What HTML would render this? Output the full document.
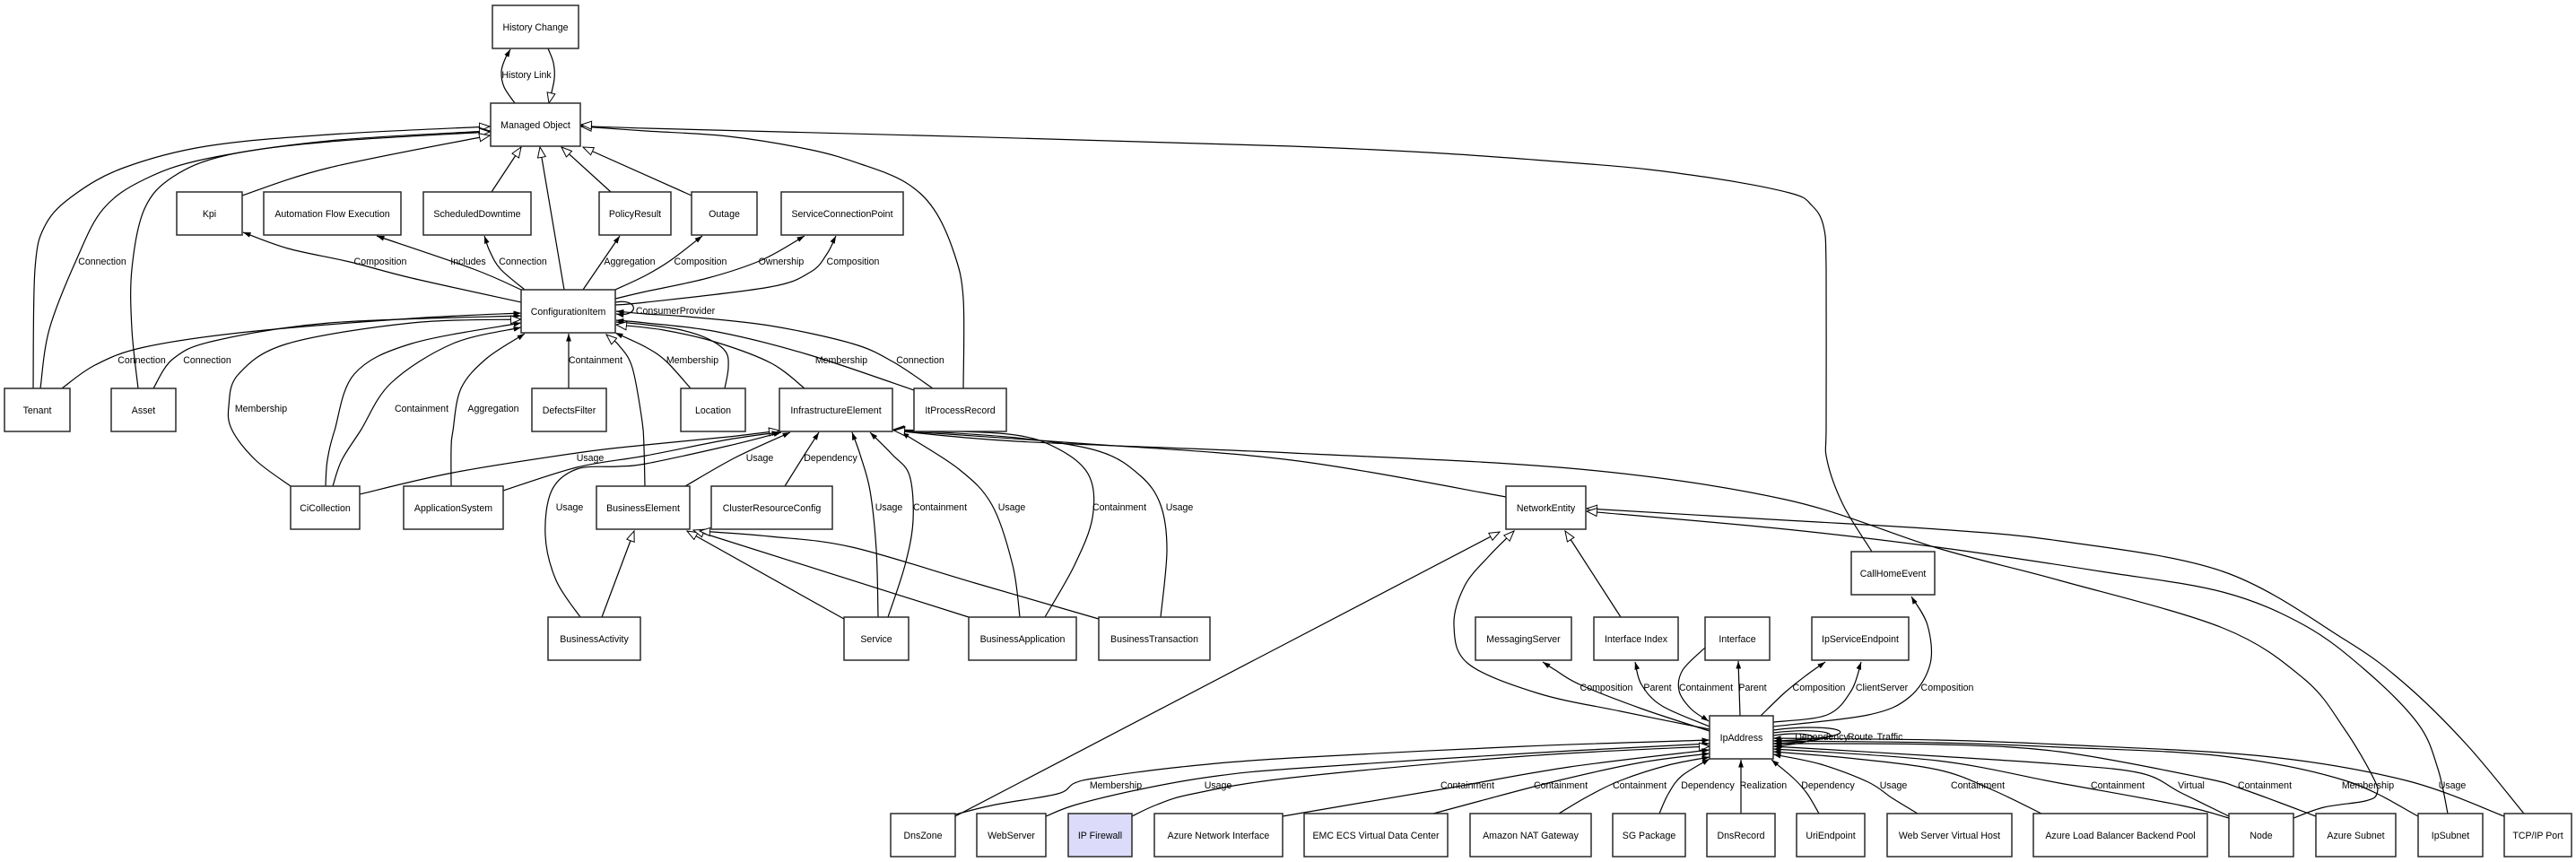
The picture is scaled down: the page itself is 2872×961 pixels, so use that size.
<!DOCTYPE html>
<html><head><meta charset="utf-8">
<style>
html,body{margin:0;padding:0;background:#fff;}
svg{display:block;}
text{font-family:"Liberation Sans",Arial,sans-serif;font-size:10.6px;fill:#000;}
.e polyline,.e path{fill:none;stroke:#000;stroke-width:1.2;stroke-linejoin:round;}
.f{marker-end:url(#af);}
.h{marker-end:url(#ah);}
.n rect{fill:#fff;stroke:#2a2a2a;stroke-width:1.5;}
</style></head>
<body>
<svg width="2872" height="961" viewBox="0 0 2872 961" xmlns="http://www.w3.org/2000/svg">
<defs>
<marker id="af" markerWidth="10" markerHeight="8" refX="8.5" refY="3.5" orient="auto" markerUnits="userSpaceOnUse"><path d="M0,0.6 L8.5,3.5 L0,6.4 z" fill="#000"/></marker>
<marker id="ah" markerWidth="14" markerHeight="12" refX="12" refY="5" orient="auto" markerUnits="userSpaceOnUse"><path d="M0.5,0.5 L12,5 L0.5,9.5 z" fill="#fff" stroke="#000" stroke-width="1"/></marker>
</defs>
<rect width="2872" height="961" fill="#fff"/>
<g class="e">
<!-- top -->
<polyline class="h" points="611,54 617,70 618,88 612,115"/>
<polyline class="f" points="574,115 562,97 559,80 563,66 569,55"/>
<polyline class="h" points="37,433 39,300 51,250 83,217 138,187 230,163 367,150 546,141"/>
<polyline class="h" points="45,433 55,367 85,290 115,233 161,200 230,177 367,157 546,146"/>
<polyline class="h" points="154,433 147,367 147,300 161,233 193,197 253,173 367,158 546,147"/>
<polyline class="h" points="270,218 367,187 546,151"/>
<polyline class="h" points="548,214 581,164"/>
<polyline class="h" points="629,323 602,164"/>
<polyline class="h" points="681,214 626,164"/>
<polyline class="h" points="771,218 650,164"/>
<polyline class="h" points="1074,433 1074,333 1064,283 1041,233 1009,203 960,183 904,167 812,152 720,146 648,141"/>
<polyline class="h" points="2087,615 2055,563 2037,513 2036,470 2036,300 2033,252 2020,229 1995,215 1899,197 1761,182 1440,163 720,143 648,139"/>
<!-- CI outgoing -->
<polyline class="f" points="581,337 459,310 390,292 321,277 271,259"/>
<polyline class="f" points="581,323 528,300 420,263"/>
<polyline class="f" points="585,323 558,300 546,280 540,263"/>
<polyline class="f" points="650,323 691,263"/>
<polyline class="f" points="686,323 720,307 748,290 783,263"/>
<polyline class="f" points="686,333 720,325 789,310 849,290 897,263"/>
<polyline class="f" points="686,340 720,337 858,320 904,303 922,283 932,263"/>
<path class="f" d="M686,337 C712,332 714,354 687,350"/>
<!-- into CI -->
<polyline class="f" points="69,433 106,407 161,387 276,370 459,355 581,349"/>
<polyline class="f" points="171,433 193,400 239,380 367,360 581,352"/>
<polyline class="h" points="324,542 285,513 259,480 255,453 266,417 321,383 459,360 581,356"/>
<polyline class="f" points="363,542 365,513 373,480 395,417 459,383 581,360"/>
<polyline class="f" points="371,542 381,513 402,480 436,427 505,383 581,365"/>
<polyline class="f" points="503,542 503,500 505,480 514,433 542,400 585,372"/>
<polyline class="f" points="634,433 634,372"/>
<polyline class="h" points="719,542 718,500 716,470 705,410 690,385 676,373"/>
<polyline class="f" points="770,433 743,403 720,387 686,371"/>
<polyline class="f" points="808,433 812,410 809,392 790,378 760,368 720,362 687,359"/>
<polyline class="h" points="897,433 860,405 800,382 740,368 687,362"/>
<polyline class="f" points="1019,435 900,395 800,370 720,360 687,357"/>
<polyline class="f" points="1040,433 995,403 950,383 858,363 766,353 720,350 687,347"/>
<!-- into IE -->
<polyline class="h" points="401,551 505,527 643,505 720,496 812,487 869,480"/>
<polyline class="f" points="561,547 643,521 720,508 812,490 869,482"/>
<polyline class="f" points="647,688 620,647 608,597 615,547 643,523 689,520 720,517 812,497 871,482"/>
<polyline class="f" points="764,542 820,510 881,482"/>
<polyline class="f" points="875,542 895,510 913,482"/>
<polyline class="f" points="979,688 977,613 970,547 959,507 950,482"/>
<polyline class="f" points="990,688 1009,630 1018,580 1014,530 995,507 970,482"/>
<polyline class="f" points="1137,688 1129,630 1106,563 1069,523 1005,482"/>
<polyline class="h" points="1165,688 1198,630 1218,577 1214,530 1179,500 1124,484 996,479"/>
<polyline class="h" points="1294,688 1301,613 1294,563 1271,530 1225,503 1133,488 997,479"/>
<polyline class="h" points="1679,554 1440,513 1200,494 997,480"/>
<polyline class="h" points="2557,912 2591,900 2637,893 2650,885 2646,867 2614,813 2569,757 2478,700 2296,647 2160,611 1991,557 1761,523 1440,505 1133,492 997,480"/>
<!-- into BE -->
<polyline class="h" points="671,688 707,592"/>
<polyline class="h" points="941,690 766,592"/>
<polyline class="h" points="1080,688 773,591"/>
<polyline class="h" points="1225,690 1087,650 950,610 858,598 780,592"/>
<!-- into NE -->
<polyline class="h" points="2814,907 2750,830 2682,763 2614,713 2478,637 2296,603 2160,590 1991,580 1769,567"/>
<polyline class="h" points="2729,907 2718,857 2696,807 2637,747 2569,697 2478,660 2342,637 2160,610 1991,590 1769,570"/>
<polyline class="h" points="1065,910 1672,593"/>
<polyline class="h" points="1906,813 1807,793 1715,773 1637,740 1621,697 1633,653 1660,620 1688,592"/>
<polyline class="h" points="1807,688 1745,592"/>
<!-- IpAddress upward -->
<polyline class="f" points="1906,815 1830,790 1761,763 1734,747 1720,738"/>
<polyline class="f" points="1906,810 1853,787 1830,763 1823,738"/>
<polyline class="f" points="1901,722 1876,747 1872,770 1885,790 1905,804"/>
<polyline class="f" points="1940,798 1938,737"/>
<polyline class="f" points="1963,798 1990,772 2015,752 2035,738"/>
<polyline class="f" points="1977,805 2037,797 2064,770 2075,738"/>
<polyline class="f" points="1977,810 2083,797 2129,777 2152,740 2149,697 2131,665"/>
<path class="f" d="M1977,814 C2050,804 2100,822 1978,826"/>
<path class="f" d="M1977,817 C2040,809 2080,824 1978,829"/>
<path class="f" d="M1977,820 C2020,813 2050,826 1978,832"/>
<!-- bottom into IpAddress -->
<polyline class="f" points="1065,908 1110,897 1179,885 1198,873 1225,867 1317,855 1440,845 1700,832 1906,825"/>
<polyline class="f" points="1166,910 1200,897 1271,880 1350,866 1440,857 1700,840 1906,829"/>
<polyline class="h" points="1262,910 1290,897 1330,885 1440,867 1700,843 1906,832"/>
<polyline class="f" points="1430,910 1500,898 1607,880 1750,855 1906,836"/>
<polyline class="f" points="1598,907 1650,893 1738,870 1830,850 1906,840"/>
<polyline class="f" points="1738,907 1770,888 1807,870 1860,853 1906,844"/>
<polyline class="f" points="1850,907 1860,885 1875,865 1906,846"/>
<polyline class="f" points="1941,907 1941,847"/>
<polyline class="f" points="2028,907 2015,885 2000,868 1975,847"/>
<polyline class="f" points="2138,907 2110,890 2083,872 2030,852 1977,841"/>
<polyline class="f" points="2276,907 2220,880 2160,858 2060,845 1977,838"/>
<polyline class="f" points="2485,912 2432,898 2296,873 2160,848 1977,835"/>
<polyline class="f" points="2485,910 2432,884 2387,862 2296,852 2160,843 1977,832"/>
<polyline class="f" points="2582,910 2501,880 2455,867 2296,838 2160,830 1977,829"/>
<polyline class="f" points="2696,910 2614,870 2478,843 2296,833 2160,828 1977,826"/>
<polyline class="f" points="2792,910 2682,870 2523,843 2296,830 2160,825 1977,823"/>
</g>

<g class="n">
<rect x="549" y="6" width="96" height="48"/><text x="597" y="34" text-anchor="middle">History Change</text>
<rect x="547" y="115" width="100" height="48"/><text x="597" y="143" text-anchor="middle">Managed Object</text>
<rect x="197" y="214" width="73" height="48"/><text x="233.5" y="242" text-anchor="middle">Kpi</text>
<rect x="294" y="214" width="153" height="48"/><text x="370.5" y="242" text-anchor="middle">Automation Flow Execution</text>
<rect x="472" y="214" width="120" height="48"/><text x="532" y="242" text-anchor="middle">ScheduledDowntime</text>
<rect x="668" y="214" width="80" height="48"/><text x="708" y="242" text-anchor="middle">PolicyResult</text>
<rect x="771" y="214" width="73" height="48"/><text x="807.5" y="242" text-anchor="middle">Outage</text>
<rect x="871" y="214" width="136" height="48"/><text x="939" y="242" text-anchor="middle">ServiceConnectionPoint</text>
<rect x="581" y="323" width="105" height="48"/><text x="633.5" y="351" text-anchor="middle">ConfigurationItem</text>
<rect x="5" y="433" width="73" height="48"/><text x="41.5" y="461" text-anchor="middle">Tenant</text>
<rect x="124" y="433" width="72" height="48"/><text x="160" y="461" text-anchor="middle">Asset</text>
<rect x="593" y="433" width="83" height="48"/><text x="634.5" y="461" text-anchor="middle">DefectsFilter</text>
<rect x="759" y="433" width="72" height="48"/><text x="795" y="461" text-anchor="middle">Location</text>
<rect x="869" y="433" width="126" height="48"/><text x="932" y="461" text-anchor="middle">InfrastructureElement</text>
<rect x="1019" y="433" width="103" height="48"/><text x="1070.5" y="461" text-anchor="middle">ItProcessRecord</text>
<rect x="324" y="542" width="77" height="48"/><text x="362.5" y="570" text-anchor="middle">CiCollection</text>
<rect x="450" y="542" width="111" height="48"/><text x="505.5" y="570" text-anchor="middle">ApplicationSystem</text>
<rect x="665" y="542" width="104" height="48"/><text x="717" y="570" text-anchor="middle">BusinessElement</text>
<rect x="793" y="542" width="135" height="48"/><text x="860.5" y="570" text-anchor="middle">ClusterResourceConfig</text>
<rect x="1679" y="542" width="89" height="48"/><text x="1723.5" y="570" text-anchor="middle">NetworkEntity</text>
<rect x="2064" y="615" width="93" height="48"/><text x="2110.5" y="643" text-anchor="middle">CallHomeEvent</text>
<rect x="611" y="688" width="103" height="48"/><text x="662.5" y="716" text-anchor="middle">BusinessActivity</text>
<rect x="941" y="688" width="72" height="48"/><text x="977" y="716" text-anchor="middle">Service</text>
<rect x="1080" y="688" width="120" height="48"/><text x="1140" y="716" text-anchor="middle">BusinessApplication</text>
<rect x="1225" y="688" width="124" height="48"/><text x="1287" y="716" text-anchor="middle">BusinessTransaction</text>
<rect x="1645" y="688" width="107" height="48"/><text x="1698.5" y="716" text-anchor="middle">MessagingServer</text>
<rect x="1777" y="688" width="94" height="48"/><text x="1824" y="716" text-anchor="middle">Interface Index</text>
<rect x="1901" y="688" width="72" height="48"/><text x="1937" y="716" text-anchor="middle">Interface</text>
<rect x="2020" y="688" width="108" height="48"/><text x="2074" y="716" text-anchor="middle">IpServiceEndpoint</text>
<rect x="1906" y="798" width="71" height="48"/><text x="1941.5" y="826" text-anchor="middle">IpAddress</text>
<rect x="993" y="907" width="72" height="48"/><text x="1029" y="935" text-anchor="middle">DnsZone</text>
<rect x="1089" y="907" width="77" height="48"/><text x="1127.5" y="935" text-anchor="middle">WebServer</text>
<rect x="1191" y="907" width="71" height="48" style="fill:#dcdcfa"/><text x="1226.5" y="935" text-anchor="middle">IP Firewall</text>
<rect x="1287" y="907" width="143" height="48"/><text x="1358.5" y="935" text-anchor="middle">Azure Network Interface</text>
<rect x="1454" y="907" width="160" height="48"/><text x="1534" y="935" text-anchor="middle">EMC ECS Virtual Data Center</text>
<rect x="1639" y="907" width="135" height="48"/><text x="1706.5" y="935" text-anchor="middle">Amazon NAT Gateway</text>
<rect x="1798" y="907" width="81" height="48"/><text x="1838.5" y="935" text-anchor="middle">SG Package</text>
<rect x="1903" y="907" width="76" height="48"/><text x="1941" y="935" text-anchor="middle">DnsRecord</text>
<rect x="2003" y="907" width="76" height="48"/><text x="2041" y="935" text-anchor="middle">UriEndpoint</text>
<rect x="2104" y="907" width="139" height="48"/><text x="2173.5" y="935" text-anchor="middle">Web Server Virtual Host</text>
<rect x="2267" y="907" width="194" height="48"/><text x="2364" y="935" text-anchor="middle">Azure Load Balancer Backend Pool</text>
<rect x="2485" y="907" width="72" height="48"/><text x="2521" y="935" text-anchor="middle">Node</text>
<rect x="2582" y="907" width="89" height="48"/><text x="2626.5" y="935" text-anchor="middle">Azure Subnet</text>
<rect x="2696" y="907" width="72" height="48"/><text x="2732" y="935" text-anchor="middle">IpSubnet</text>
<rect x="2792" y="907" width="75" height="48"/><text x="2829.5" y="935" text-anchor="middle">TCP/IP Port</text>
</g>

<g text-anchor="middle">
<text x="587" y="87">History Link</text>
<text x="114" y="295">Connection</text>
<text x="424" y="295">Composition</text>
<text x="522" y="295">Includes</text>
<text x="583" y="295">Connection</text>
<text x="702" y="295">Aggregation</text>
<text x="781" y="295">Composition</text>
<text x="871" y="295">Ownership</text>
<text x="951" y="295">Composition</text>
<text x="753" y="350">ConsumerProvider</text>
<text x="158" y="405">Connection</text>
<text x="231" y="405">Connection</text>
<text x="291" y="459">Membership</text>
<text x="470" y="459">Containment</text>
<text x="550" y="459">Aggregation</text>
<text x="664" y="405">Containment</text>
<text x="772" y="405">Membership</text>
<text x="938" y="405">Membership</text>
<text x="1026" y="405">Connection</text>
<text x="658" y="514">Usage</text>
<text x="635" y="569">Usage</text>
<text x="847" y="514">Usage</text>
<text x="926" y="514">Dependency</text>
<text x="991" y="569">Usage</text>
<text x="1048" y="569">Containment</text>
<text x="1128" y="569">Usage</text>
<text x="1248" y="569">Containment</text>
<text x="1315" y="569">Usage</text>
<text x="1791" y="770">Composition</text>
<text x="1848" y="770">Parent</text>
<text x="1902" y="770">Containment</text>
<text x="1954" y="770">Parent</text>
<text x="2028" y="770">Composition</text>
<text x="2098" y="770">ClientServer</text>
<text x="2171" y="770">Composition</text>
<text x="2031" y="825">Dependency</text>
<text x="2074" y="825">Route</text>
<text x="2107" y="825">Traffic</text>
<text x="1244" y="879">Membership</text>
<text x="1358" y="879">Usage</text>
<text x="1636" y="879">Containment</text>
<text x="1740" y="879">Containment</text>
<text x="1828" y="879">Containment</text>
<text x="1904" y="879">Dependency</text>
<text x="1966" y="879">Realization</text>
<text x="2038" y="879">Dependency</text>
<text x="2111" y="879">Usage</text>
<text x="2205" y="879">Containment</text>
<text x="2361" y="879">Containment</text>
<text x="2443" y="879">Virtual</text>
<text x="2525" y="879">Containment</text>
<text x="2640" y="879">Membership</text>
<text x="2734" y="879">Usage</text>
</g>
</svg>
<script>
(function(){
var NS='http://www.w3.org/2000/svg';
var pls=document.querySelectorAll('g.e polyline');
for(var k=0;k<pls.length;k++){
 var pl=pls[k];
 var pts=pl.getAttribute('points').trim().split(/\s+/).map(function(s){return s.split(',').map(Number);});
 if(pts.length<3) continue;
 var d='M'+pts[0][0]+','+pts[0][1];
 for(var i=0;i<pts.length-1;i++){
  var p0=pts[i-1]||pts[i],p1=pts[i],p2=pts[i+1],p3=pts[i+2]||p2;
  var c1x=p1[0]+(p2[0]-p0[0])/6,c1y=p1[1]+(p2[1]-p0[1])/6;
  var c2x=p2[0]-(p3[0]-p1[0])/6,c2y=p2[1]-(p3[1]-p1[1])/6;
  d+=' C'+c1x.toFixed(1)+','+c1y.toFixed(1)+' '+c2x.toFixed(1)+','+c2y.toFixed(1)+' '+p2[0]+','+p2[1];
 }
 var p=document.createElementNS(NS,'path');
 p.setAttribute('class',pl.getAttribute('class'));
 p.setAttribute('d',d);
 pl.parentNode.replaceChild(p,pl);
}
})();
</script>
</body></html>
